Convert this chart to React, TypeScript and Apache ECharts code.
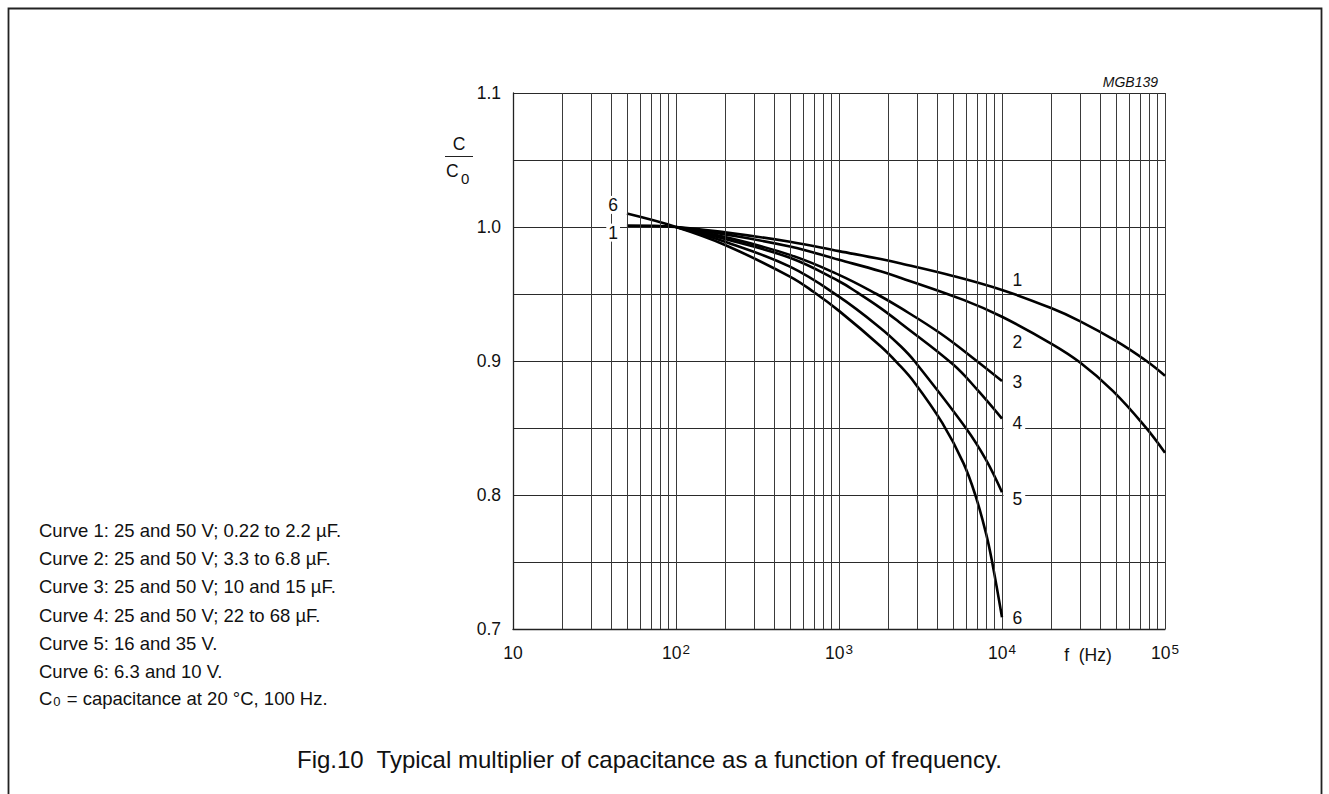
import React, { useEffect, useRef } from "react";
import * as echarts from "echarts";

const FONT = "'Liberation Sans', Arial, Helvetica, sans-serif";
const INK = "#111";

// Curve data: frequency (Hz) and C/C0
const curve1F = [50, 100, 200, 500, 1000, 1800, 2400, 5000, 10000, 20000, 30000, 50000, 77000, 100000];
const curve1V = [1.001, 1.0, 0.996, 0.989, 0.982, 0.9761, 0.9728, 0.9635, 0.953, 0.9395, 0.9298, 0.915, 0.9, 0.889];

const curve2F = [100, 200, 500, 1000, 1800, 2400, 5800, 10000, 20000, 30000, 48000, 75500, 100000];
const curve2V = [1.0, 0.9945, 0.9854, 0.9755, 0.967, 0.962, 0.9456, 0.933, 0.913, 0.899, 0.8775, 0.851, 0.8315];

const curve3F = [100, 200, 500, 1000, 1700, 2400, 4200, 7000, 10000];
const curve3V = [1.0, 0.9925, 0.9792, 0.9643, 0.95, 0.9394, 0.9205, 0.9, 0.885];

const curve4F = [100, 200, 500, 1000, 1300, 1800, 2400, 5000, 7000, 10000];
const curve4V = [1.0, 0.991, 0.977, 0.9595, 0.951, 0.9395, 0.928, 0.8975, 0.879, 0.857];

const curve5F = [100, 200, 500, 1000, 1800, 2400, 2900, 6000, 8000, 10000];
const curve5V = [1.0, 0.989, 0.9704, 0.948, 0.9245, 0.9108, 0.9, 0.85, 0.826, 0.802];

const curve6F = [50, 100, 200, 500, 700, 1000, 1800, 2300, 2900, 4300, 5800, 6900, 8000, 8750, 10000];
const curve6V = [1.01, 1.0, 0.9866, 0.963, 0.9515, 0.9374, 0.911, 0.8981, 0.884, 0.8538, 0.8238, 0.799, 0.7708, 0.7484, 0.7087];

// Curve number labels (anchored in data units)
const endLabelFreq = 10000;
const endLabelNames = ["1", "2", "3", "4", "5", "6"];
const endLabelValues = [0.9605, 0.9145, 0.8847, 0.8541, 0.797, 0.7082];
const startLabelFreq = 40;
const startLabelNames = ["6", "1"];
const startLabelValues = [1.0165, 0.9958];

// Axis definitions
const xMin = 10;
const xMax = 100000;
const yMin = 0.7;
const yMax = 1.1;
const yStep = 0.05;
const minorMultipliers = [2, 3, 4, 5, 6, 7, 8, 9];
const decades = [10, 100, 1000, 10000];

const legendLines = [
  "Curve 1: 25 and 50 V; 0.22 to 2.2 \u00b5F.",
  "Curve 2: 25 and 50 V; 3.3 to 6.8 \u00b5F.",
  "Curve 3: 25 and 50 V; 10 and 15 \u00b5F.",
  "Curve 4: 25 and 50 V; 22 to 68 \u00b5F.",
  "Curve 5: 16 and 35 V.",
  "Curve 6: 6.3 and 10 V.",
];
const c0Note = " = capacitance at 20 \u00b0C, 100 Hz.";
const caption = "Fig.10  Typical multiplier of capacitance as a function of frequency.";
const codeLabel = "MGB139";
const xTitle = "f  (Hz)";

const curves = [
  { name: "Curve 1", f: curve1F, v: curve1V },
  { name: "Curve 2", f: curve2F, v: curve2V },
  { name: "Curve 3", f: curve3F, v: curve3V },
  { name: "Curve 4", f: curve4F, v: curve4V },
  { name: "Curve 5", f: curve5F, v: curve5V },
  { name: "Curve 6", f: curve6F, v: curve6V },
];

export default function App() {
  const ref = useRef<HTMLDivElement>(null);

  useEffect(() => {
    if (!ref.current) return;
    const chart = echarts.init(ref.current, undefined, { renderer: "svg" });

    const minorFreqs: number[] = [];
    decades.forEach((d) => minorMultipliers.forEach((m) => minorFreqs.push(d * m)));

    const labelStyle = {
      fontFamily: FONT,
      fontSize: 17.5,
      color: INK,
      opacity: 1,
      textBorderWidth: 0,
      lineHeight: 18,
      backgroundColor: "#fff",
    };

    const series: any[] = [
      {
        type: "line",
        name: "grid",
        data: [[xMin, yMin]],
        symbol: "none",
        silent: true,
        z: 1,
        lineStyle: { opacity: 0 },
        markLine: {
          silent: true,
          symbol: ["none", "none"],
          label: { show: false },
          lineStyle: { color: "#3a3a3a", width: 1, type: "solid" },
          data: minorFreqs.map((f) => ({ xAxis: f })),
        },
      },
      ...curves.map((c) => ({
        type: "line",
        name: c.name,
        data: c.f.map((f, i) => [f, c.v[i]]),
        symbol: "none",
        showSymbol: false,
        smooth: 0.4,
        silent: true,
        z: 3,
        lineStyle: { color: "#000", width: 2.6 },
      })),
      {
        type: "scatter",
        name: "endLabels",
        data: endLabelNames.map((n, i) => [endLabelFreq, endLabelValues[i], n]),
        symbolSize: 1,
        itemStyle: { color: "rgba(255,255,255,0)" },
        silent: true,
        z: 5,
        label: {
          show: true,
          position: "right",
          distance: 1,
          padding: [0, 3, 0, 9],
          formatter: (p: any) => p.data[2],
          ...labelStyle,
        },
      },
      {
        type: "scatter",
        name: "startLabels",
        data: startLabelNames.map((n, i) => [startLabelFreq, startLabelValues[i], n]),
        symbolSize: 1,
        itemStyle: { color: "rgba(255,255,255,0)" },
        silent: true,
        z: 5,
        label: {
          show: true,
          position: "inside",
          offset: [2, 0],
          padding: [0, 2, 0, 2],
          formatter: (p: any) => p.data[2],
          ...labelStyle,
        },
      },
    ];

    const legendGraphics: any[] = legendLines.map((t, i) => ({
      type: "text",
      left: 39,
      top: 521 + i * 28.2,
      style: { text: t, fontFamily: FONT, fontSize: 18.5, fill: INK },
    }));
    legendGraphics.push({
      type: "text",
      left: 39,
      top: 689,
      style: {
        text: "C{sub|0}" + c0Note,
        fontFamily: FONT,
        fontSize: 18.5,
        fill: INK,
        rich: {
          sub: { fontSize: 13, fontFamily: FONT, fill: INK, verticalAlign: "bottom", lineHeight: 12, padding: [0, 1, 0, 1] },
        },
      },
    });

    const option: any = {
      animation: false,
      backgroundColor: "#fff",
      textStyle: { fontFamily: FONT },
      grid: { left: 513, top: 93, width: 652, height: 536, containLabel: false },
      xAxis: {
        type: "log",
        logBase: 10,
        min: xMin,
        max: xMax,
        axisLine: { show: true, onZero: false, lineStyle: { color: "#222", width: 1.3 } },
        axisTick: { show: false },
        splitLine: { show: true, lineStyle: { color: "#3a3a3a", width: 1 } },
        axisLabel: {
          margin: 13,
          color: INK,
          fontFamily: FONT,
          fontSize: 17.5,
          lineHeight: 22,
          formatter: (v: number) => {
            const e = Math.round(Math.log10(v));
            return e === 1 ? "10" : "10{sup|" + e + "}";
          },
          rich: {
            sup: { fontSize: 13.5, fontFamily: FONT, color: INK, verticalAlign: "top", lineHeight: 12, padding: [0, 0, 0, 1] },
          },
        },
      },
      yAxis: {
        type: "value",
        min: yMin,
        max: yMax,
        interval: yStep,
        axisLine: { show: true, onZero: false, lineStyle: { color: "#222", width: 1.3 } },
        axisTick: { show: false },
        splitLine: { show: true, lineStyle: { color: "#2a2a2a", width: 1 } },
        axisLabel: {
          margin: 12,
          color: INK,
          fontFamily: FONT,
          fontSize: 17.5,
          formatter: (v: number) => {
            const t = Math.round(v * 100);
            return t % 10 === 0 ? (t / 100).toFixed(1) : "";
          },
        },
      },
      graphic: [
        {
          type: "rect",
          shape: { x: 8.5, y: 8.5, width: 1313, height: 900 },
          style: { fill: "none", stroke: "#222", lineWidth: 1.8 },
          silent: true,
          z: 0,
        },
        {
          type: "text",
          x: 1158,
          y: 82,
          style: { text: codeLabel, fontFamily: FONT, fontSize: 14, fontStyle: "italic", fill: INK, align: "right", verticalAlign: "middle" },
        },
        {
          type: "text",
          x: 459,
          y: 144,
          style: { text: "C", fontFamily: FONT, fontSize: 17.5, fill: INK, align: "center", verticalAlign: "middle" },
        },
        {
          type: "line",
          shape: { x1: 445, y1: 156.5, x2: 473, y2: 156.5 },
          style: { stroke: "#222", lineWidth: 1 },
        },
        {
          type: "text",
          x: 446,
          y: 171,
          style: { text: "C", fontFamily: FONT, fontSize: 17.5, fill: INK, align: "left", verticalAlign: "middle" },
        },
        {
          type: "text",
          x: 461,
          y: 178,
          style: { text: "0", fontFamily: FONT, fontSize: 15, fill: INK, align: "left", verticalAlign: "middle" },
        },
        {
          type: "text",
          x: 1088,
          y: 655,
          style: { text: xTitle, fontFamily: FONT, fontSize: 17.5, fill: INK, align: "center", verticalAlign: "middle" },
        },
        {
          type: "text",
          x: 297,
          y: 759,
          style: { text: caption, fontFamily: FONT, fontSize: 24, fill: INK, align: "left", verticalAlign: "middle" },
        },
        ...legendGraphics,
      ],
      series,
    };

    chart.setOption(option);
    return () => chart.dispose();
  }, []);

  return (
    <div
      ref={ref}
      style={{ position: "fixed", left: 0, top: 0, width: 1329, height: 794, background: "#fff" }}
    />
  );
}
